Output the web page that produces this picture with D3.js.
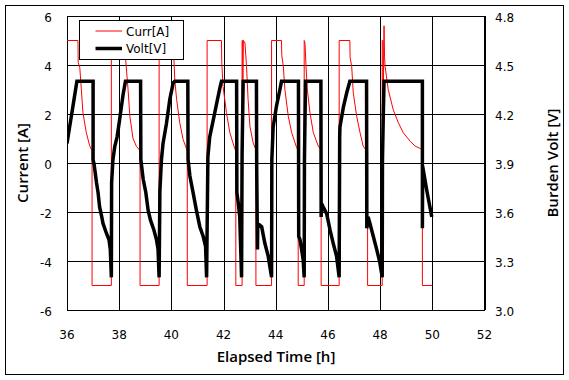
<!DOCTYPE html>
<html>
<head>
<meta charset="utf-8">
<script src="https://cdnjs.cloudflare.com/ajax/libs/d3/7.8.5/d3.min.js"></script>
<style>
  body { margin: 0; background: #fff; }
  .wrapper { width: 569px; height: 380px; }
  text { font-family: "DejaVu Sans", sans-serif; fill: #000; }
  text.title { font-family: "Open Sans", sans-serif; font-size: 15px; font-weight: 600; }
  .grid line { stroke: #000; stroke-width: 1; shape-rendering: crispEdges; }
</style>
</head>
<body>
<div class="wrapper"></div>
<script>
width = 569;
height = 380;

/* Data */
xTicks = [36, 38, 40, 42, 44, 46, 48, 50, 52];
currTicks = [-6, -4, -2, 0, 2, 4, 6];
voltTicks = [3.0, 3.3, 3.6, 3.9, 4.2, 4.5, 4.8];

currTime = [
  36.00, 36.42, 36.43, 36.49, 36.55, 36.61, 36.74, 36.87, 36.96, 36.96, 37.70, 37.70,
  38.24, 38.25, 38.34, 38.41, 38.53, 38.66, 38.80, 38.80, 39.53, 39.53,
  40.09, 40.10, 40.13, 40.20, 40.32, 40.45, 40.58, 40.61, 40.61, 41.37, 41.37,
  41.92, 41.93, 41.98, 42.11, 42.24, 42.43, 42.47, 42.47, 42.71, 42.71,
  42.73, 42.74, 42.76, 42.82, 42.88, 42.94, 43.01, 43.13, 43.20, 43.24, 43.24, 43.84, 43.84,
  44.22, 44.23, 44.29, 44.35, 44.48, 44.61, 44.80, 44.86, 44.86, 45.09, 45.09,
  45.12, 45.16, 45.21, 45.31, 45.44, 45.63, 45.69, 45.74, 45.74, 46.43, 46.43,
  46.84, 46.85, 46.91, 46.97, 47.10, 47.23, 47.35, 47.45, 47.52, 47.52, 48.08, 48.08,
  48.11, 48.12, 48.15, 48.17, 48.19, 48.31, 48.50, 48.70, 48.89, 49.15, 49.34, 49.56, 49.62, 49.62, 50.00
];
currValue = [
  5, 5, 4.1, 3.9, 3.0, 2.06, 1.24, 0.7, 0.5, -5, -5, 5,
  5, 4.2, 3.0, 1.9, 1.0, 0.68, 0.5, -5, -5, 5,
  5, 4.2, 3.4, 2.6, 1.65, 0.96, 0.58, 0.5, -5, -5, 5,
  5, 4.1, 3.13, 2.06, 1.24, 0.58, 0.5, -5, -5, 5,
  5, 3.4, 5, 4.9, 3.95, 2.6, 1.5, 0.84, 0.63, 0.55, -5, -5, 5,
  5, 4.4, 3.95, 3.0, 1.91, 1.24, 0.63, 0.5, -5, -5, 5,
  4.9, 3.95, 3.0, 2.06, 1.24, 0.69, 0.6, 0.55, -5, -5, 5,
  5, 4.3, 3.95, 2.88, 1.91, 1.24, 0.69, 0.55, 0.5, -5, -5, 5,
  5, 2.7, 5.6, 4.3, 3.95, 3.0, 2.18, 1.64, 1.23, 0.89, 0.69, 0.58, 0.55, -5, -5
];

voltTime = [
  36.00, 36.10, 36.20, 36.30, 36.38, 37.00, 37.00, 37.04, 37.13, 37.19, 37.25, 37.32, 37.38, 37.51, 37.61, 37.66, 37.70,
  37.71, 37.76, 37.83, 37.92, 38.02, 38.15, 38.24, 38.82, 38.83, 38.92, 39.02, 39.11, 39.20, 39.33, 39.43, 39.49, 39.53,
  39.56, 39.62, 39.68, 39.81, 39.94, 40.07, 40.13, 40.63, 40.64, 40.71, 40.83, 40.96, 41.09, 41.22, 41.31, 41.35,
  41.40, 41.47, 41.60, 41.73, 41.86, 41.92, 42.50, 42.51, 42.56, 42.62, 42.69,
  42.71, 42.75, 43.26, 43.27, 43.30, 43.31, 43.46, 43.58, 43.71, 43.84,
  43.85, 43.90, 44.03, 44.16, 44.22, 44.87, 44.88, 44.93, 45.05, 45.09,
  45.10, 45.14, 45.73, 45.74, 45.76, 45.82, 45.95, 46.08, 46.20, 46.33, 46.43,
  46.45, 46.46, 46.59, 46.72, 46.84, 47.48, 47.49, 47.54, 47.61, 47.74, 47.87, 47.99, 48.08,
  48.09, 48.12, 48.15, 49.62, 49.62, 49.63, 49.79, 49.98
];
voltValue = [
  4.02, 4.12, 4.22, 4.32, 4.40, 4.40, 3.92, 3.89, 3.78, 3.72, 3.63, 3.58, 3.53, 3.47, 3.43, 3.37, 3.20,
  3.78, 3.92, 4.00, 4.06, 4.17, 4.32, 4.40, 4.40, 3.92, 3.80, 3.72, 3.61, 3.55, 3.49, 3.43, 3.37, 3.20,
  3.73, 3.92, 4.02, 4.14, 4.29, 4.39, 4.40, 4.40, 3.92, 3.82, 3.72, 3.61, 3.51, 3.45, 3.39, 3.20,
  3.94, 4.06, 4.16, 4.26, 4.36, 4.40, 4.40, 3.72, 3.66, 3.57, 3.20,
  3.95, 4.40, 4.40, 3.86, 3.37, 3.53, 3.51, 3.41, 3.33, 3.20,
  3.92, 4.12, 4.25, 4.35, 4.40, 4.40, 3.45, 3.43, 3.31, 3.20,
  3.92, 4.40, 4.40, 3.57, 3.65, 3.63, 3.59, 3.49, 3.41, 3.33, 3.20,
  4.06, 4.12, 4.24, 4.33, 4.40, 4.40, 3.50, 3.57, 3.53, 3.45, 3.37, 3.29, 3.20,
  3.92, 4.18, 4.40, 4.40, 3.50, 3.88, 3.73, 3.57
];

/* Scales */
plotLeft = 67;
plotRight = 484.5;
plotTop = 16;
plotBottom = 310;

scaleX = d3.scaleLinear().domain([36, 52]).range([plotLeft, plotRight]);
scaleCurr = d3.scaleLinear().domain([-6, 6]).range([plotBottom, plotTop]);
scaleVolt = d3.scaleLinear().domain([3.0, 4.8]).range([plotBottom, plotTop]);

/* Initialize canvas */
svg = d3.select(".wrapper")
  .append("svg")
  .attr("width", width)
  .attr("height", height);

svg.append("rect")
  .attr("x", 5.5).attr("y", 5.5)
  .attr("width", 558).attr("height", 369)
  .attr("fill", "#fff")
  .attr("stroke", "#000");

function drawGrid() {
  // vertical gridlines
  svg.append("g")
    .attr("class", "grid")
    .attr("transform", "translate(0," + plotBottom + ")")
    .call(d3.axisBottom(scaleX).tickValues(xTicks)
      .tickSize(-(plotBottom - plotTop))
      .tickFormat(""))
    .select(".domain").remove();

  // horizontal gridlines
  svg.append("g")
    .attr("class", "grid")
    .attr("transform", "translate(" + plotLeft + ",0)")
    .call(d3.axisLeft(scaleCurr).tickValues(currTicks)
      .tickSize(-(plotRight - plotLeft))
      .tickFormat(""))
    .select(".domain").remove();

  svg.append("rect")
    .attr("x", plotLeft).attr("y", plotTop)
    .attr("width", plotRight - plotLeft).attr("height", plotBottom - plotTop)
    .attr("fill", "none")
    .attr("stroke", "#000")
    .attr("shape-rendering", "crispEdges");
}

function drawLabels() {
  svg.selectAll(".xlab")
    .data(xTicks).enter().append("text")
    .attr("x", function (d) { return scaleX(d) })
    .attr("y", 339)
    .attr("text-anchor", "middle")
    .style("font-size", "12px")
    .text(function (d) { return d });

  svg.selectAll(".ylab")
    .data(currTicks).enter().append("text")
    .attr("x", 52)
    .attr("y", function (d) { return scaleCurr(d) + 6 })
    .attr("text-anchor", "end")
    .style("font-size", "12px")
    .text(function (d) { return d });

  svg.selectAll(".y2lab")
    .data(voltTicks).enter().append("text")
    .attr("x", 495)
    .attr("y", function (d) { return scaleVolt(d) + 6 })
    .style("font-size", "12px")
    .text(function (d) { return d.toFixed(1) });

  svg.append("text").classed("title", true)
    .attr("x", 276).attr("y", 362)
    .attr("text-anchor", "middle")
    .text("Elapsed Time [h]");

  svg.append("text").classed("title", true)
    .attr("transform", "translate(28," + (plotTop + plotBottom) / 2 + ") rotate(-90)")
    .attr("text-anchor", "middle")
    .text("Current [A]");

  svg.append("text").classed("title", true)
    .attr("transform", "translate(558," + (plotTop + plotBottom) / 2 + ") rotate(-90)")
    .attr("text-anchor", "middle")
    .text("Burden Volt [V]");
}

function drawSeries() {
  svg.append("clipPath").attr("id", "plotClip")
    .append("rect")
    .attr("x", plotLeft).attr("y", plotTop)
    .attr("width", plotRight - plotLeft).attr("height", plotBottom - plotTop);

  var currLine = d3.line()
    .x(function (d, i) { return scaleX(currTime[i]) })
    .y(function (d) { return scaleCurr(d) });

  var voltLine = d3.line()
    .x(function (d, i) { return scaleX(voltTime[i]) })
    .y(function (d) { return scaleVolt(d) });

  svg.append("path")
    .attr("clip-path", "url(#plotClip)")
    .attr("d", currLine(currValue))
    .attr("fill", "none")
    .attr("stroke", "#ff0000")
    .attr("stroke-width", 1);

  svg.append("path")
    .attr("clip-path", "url(#plotClip)")
    .attr("d", voltLine(voltValue))
    .attr("fill", "none")
    .attr("stroke", "#000")
    .attr("stroke-width", 3.5)
    .attr("stroke-linejoin", "miter");
}

function drawLegend() {
  var lg = svg.append("g").classed("legend", true);
  lg.append("rect")
    .attr("x", 79.5).attr("y", 20.5)
    .attr("width", 104).attr("height", 39)
    .attr("fill", "#fff")
    .attr("stroke", "#000");

  var items = [
    { name: "Curr[A]", color: "#ff0000", w: 1, y: 31 },
    { name: "Volt[V]", color: "#000", w: 3.5, y: 48.5 }
  ];
  items.forEach(function (it) {
    lg.append("line")
      .attr("x1", 95.5).attr("x2", 122)
      .attr("y1", it.y).attr("y2", it.y)
      .attr("stroke", it.color)
      .attr("stroke-width", it.w);
    lg.append("text")
      .attr("x", 126).attr("y", it.y + 4.5)
      .style("font-size", "12px")
      .text(it.name);
  });
}

drawGrid();
drawSeries();
drawLabels();
drawLegend();
</script>
</body>
</html>
